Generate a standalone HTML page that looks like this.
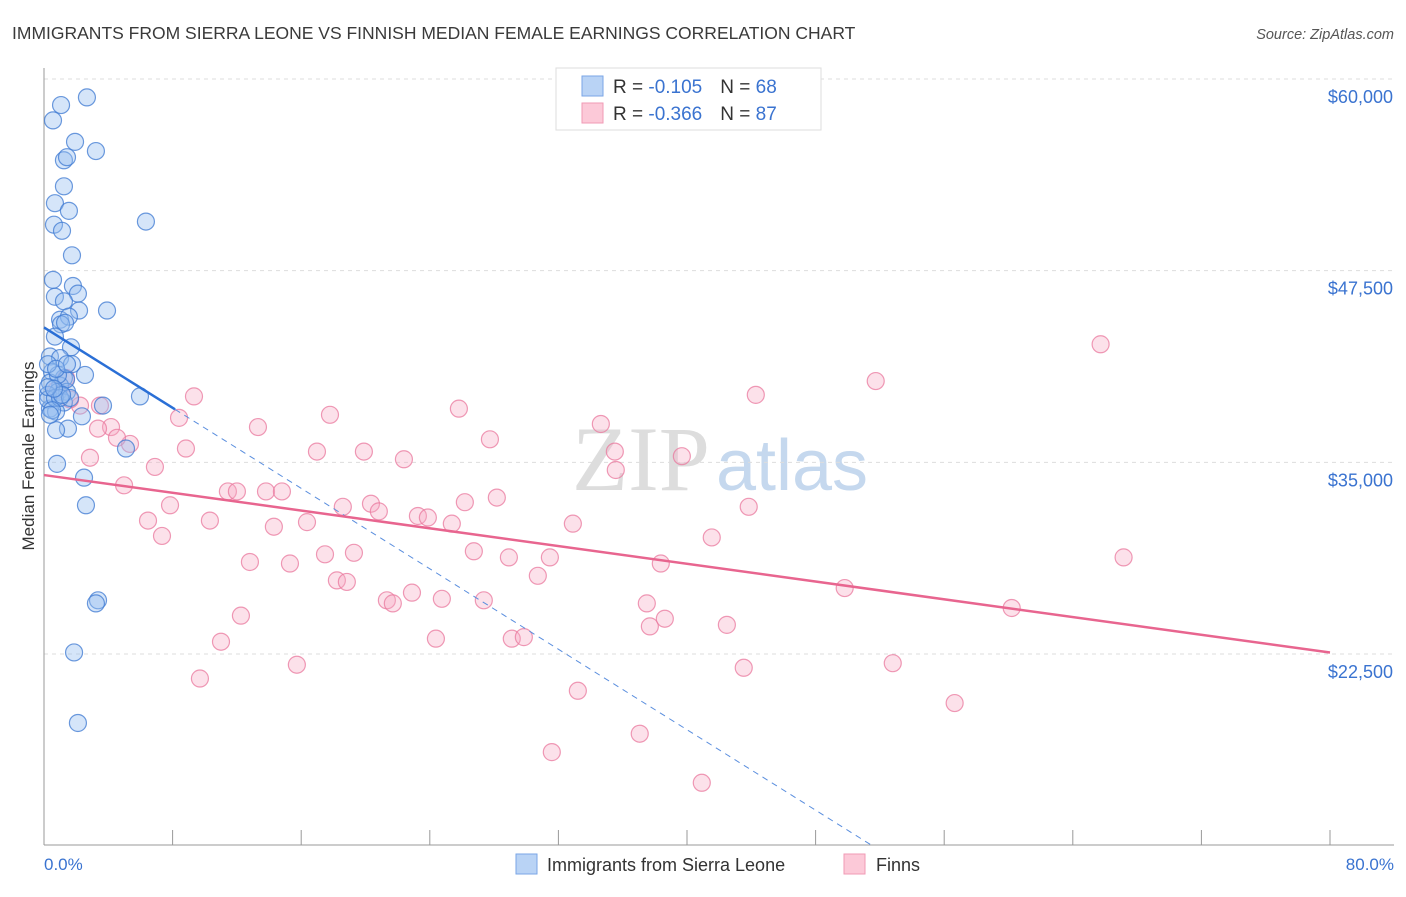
<!DOCTYPE html>
<html><head><meta charset="utf-8"><style>
body{margin:0;background:#fff;font-family:"Liberation Sans",sans-serif}
svg text{font-family:"Liberation Sans",sans-serif}
</style></head><body>
<svg id="chart" width="1406" height="892" xmlns="http://www.w3.org/2000/svg">
<text x="12" y="39" font-size="17.5" fill="#3a3a3a">IMMIGRANTS FROM SIERRA LEONE VS FINNISH MEDIAN FEMALE EARNINGS CORRELATION CHART</text>
<text x="1394" y="39" font-size="14.5" fill="#555" font-style="italic" text-anchor="end">Source: ZipAtlas.com</text>
<text x="720" y="490" font-size="92" text-anchor="middle"><tspan fill="#ddd" font-family="Liberation Serif">ZIP</tspan><tspan fill="#c5d8ee" font-size="72" dx="6">atlas</tspan></text>
<g id="grid"></g><g id="axes"></g><g id="pts"></g><g id="lines"></g>
<text transform="translate(34,456) rotate(-90)" font-size="17" fill="#333" text-anchor="middle">Median Female Earnings</text>
<text x="44" y="870" font-size="17" fill="#3a73d0">0.0%</text>
<text x="1394" y="870" font-size="17" fill="#3a73d0" text-anchor="end">80.0%</text>
<g>
<rect x="556" y="68" width="265" height="62" fill="#fff" stroke="#ddd"/>
<rect x="582" y="76" width="21" height="20" fill="#b9d3f5" stroke="#7aa6e6"/>
<rect x="582" y="103" width="21" height="20" fill="#fcc9d8" stroke="#f09ab5"/>
<text x="613" y="93" font-size="19" fill="#333">R = <tspan fill="#3a73d0">-0.105</tspan><tspan dx="18">N = </tspan><tspan fill="#3a73d0">68</tspan></text>
<text x="613" y="120" font-size="19" fill="#333">R = <tspan fill="#3a73d0">-0.366</tspan><tspan dx="18">N = </tspan><tspan fill="#3a73d0">87</tspan></text>
</g>
<g>
<rect x="516" y="854" width="21" height="20" fill="#b9d3f5" stroke="#7aa6e6"/>
<text x="547" y="871" font-size="18" fill="#333">Immigrants from Sierra Leone</text>
<rect x="844" y="854" width="21" height="20" fill="#fcc9d8" stroke="#f09ab5"/>
<text x="876" y="871" font-size="18" fill="#333">Finns</text>
</g>
</svg>
<script>
const yTicks=[60000,47500,35000,22500];
const yTickLabels=["$60,000","$47,500","$35,000","$22,500"];
const xTicks=[0,8,16,24,32,40,48,56,64,72,80];
const blueX=[2.67,1.06,0.56,1.93,3.23,1.24,1.43,1.24,0.68,1.55,6.34,0.62,1.12,1.74,0.56,1.80,0.68,2.11,1.24,3.92,2.18,1.0,1.55,1.06,1.31,0.68,1.68,0.37,1.0,1.74,2.55,0.50,1.24,1.0,0.37,0.87,1.43,3.67,1.24,0.37,0.75,2.36,1.49,0.75,5.10,0.81,2.49,2.61,3.36,3.23,1.87,2.11,5.97,0.25,0.25,0.68,1.0,0.50,1.37,0.87,0.25,1.62,1.12,0.25,0.62,0.75,1.43,0.37];
const blueY=[58.8,58.3,57.3,55.9,55.3,54.7,54.9,53.0,51.9,51.4,50.7,50.5,50.1,48.5,46.9,46.5,45.8,46.0,45.5,44.9,44.9,44.3,44.5,44.0,44.1,43.2,42.5,41.9,41.8,41.4,40.7,40.9,40.5,40.0,40.2,39.6,39.6,38.7,38.9,38.5,38.3,38.0,37.2,37.1,35.9,34.9,34.0,32.2,26.0,25.8,22.6,18.0,39.3,39.4,39.1,39.2,39.2,38.4,40.4,40.7,41.4,39.2,39.4,39.9,39.8,41.1,41.4,38.1];
const pinkX=[3.48,0.75,1.37,9.33,8.40,4.17,3.36,5.35,2.86,8.83,6.90,4.98,11.44,6.47,7.84,7.34,10.32,12.0,13.31,13.81,14.80,14.30,16.36,12.81,15.30,12.25,11.01,9.70,15.73,16.98,17.79,19.90,18.59,17.48,19.28,18.22,18.84,20.34,20.83,22.39,23.26,23.88,25.37,26.18,25.81,27.74,28.17,26.74,28.92,31.47,30.72,21.33,21.70,22.89,24.75,27.36,24.38,29.10,29.85,34.64,35.51,35.57,32.90,33.21,31.59,37.06,37.50,37.69,38.62,38.37,39.68,41.54,42.48,43.53,40.92,44.28,43.84,51.74,49.81,52.80,56.65,60.20,65.73,67.16,2.24,1.62,4.54];
const pinkY=[38.7,39.7,40.5,39.3,37.9,37.3,37.2,36.2,35.3,35.9,34.7,33.5,33.1,31.2,32.2,30.2,31.2,33.1,37.3,33.1,33.1,30.8,31.1,28.5,28.4,25.0,23.3,20.9,21.8,35.7,38.1,35.7,32.1,29.0,29.1,27.3,27.2,32.3,31.8,35.2,31.5,31.4,31.0,32.4,38.5,36.5,32.7,29.2,28.8,28.8,27.6,26.0,25.8,26.5,26.1,26.0,23.5,23.5,23.6,37.5,35.7,34.5,31.0,20.1,16.1,17.3,25.8,24.3,24.8,28.4,35.4,30.1,24.4,21.6,14.1,39.4,32.1,40.3,26.8,21.9,19.3,25.5,42.7,28.8,38.7,39.1,36.6];
const blueTrend=[43.8,-0.656];
const pinkTrend=[34.17,-0.1447];
const X=p=>44+p*16.075, Y=k=>79+(60-k)*15.333;
const NS="http://www.w3.org/2000/svg";
function mk(t,a,parent){const e=document.createElementNS(NS,t);for(const k in a)e.setAttribute(k,a[k]);document.getElementById(parent).appendChild(e);return e;}
yTicks.forEach((v,i)=>{const y=Y(v/1000);
 const g=mk('line',{x1:44,x2:1394,y1:y,y2:y,stroke:'#ddd','stroke-dasharray':'4,4'},'grid');
 
 
 const t=mk('text',{x:1393,y:y+24,'font-size':18,fill:'#3a73d0','text-anchor':'end'},'grid');t.textContent=yTickLabels[i];
 
 });
const ax=mk('line',{x1:44,x2:44,y1:68,y2:845,stroke:'#999'},'axes');


const bx=mk('line',{x1:44,x2:1394,y1:845,y2:845,stroke:'#999'},'axes');


xTicks.forEach(p=>{const t=mk('line',{x1:X(p),x2:X(p),y1:830,y2:845,stroke:'#999'},'axes');
 
 });
pinkX.forEach((p,i)=>{const c=mk('circle',{cx:X(p),cy:Y(pinkY[i]),r:8.5,fill:'rgba(247,170,195,0.35)',stroke:'rgba(233,120,158,0.75)','stroke-width':1.2},'pts');
 
 });
blueX.forEach((p,i)=>{const c=mk('circle',{cx:X(p),cy:Y(blueY[i]),r:8.5,fill:'rgba(150,190,240,0.4)',stroke:'rgba(60,120,210,0.75)','stroke-width':1.2},'pts');
 
 });
const bEnd=8.15, bZero=(Y(10)-Y(blueTrend[0]))/1;
const bl=mk('line',{x1:X(0),y1:Y(blueTrend[0]),x2:X(bEnd),y2:Y(blueTrend[0]+blueTrend[1]*bEnd),stroke:'#2a6fd6','stroke-width':2.5},'lines');


const xe=51.5;
const bd=mk('line',{x1:X(bEnd),y1:Y(blueTrend[0]+blueTrend[1]*bEnd),x2:X(xe),y2:Y(blueTrend[0]+blueTrend[1]*xe),stroke:'#5a8ede','stroke-width':1,'stroke-dasharray':'6,5'},'lines');


const pl=mk('line',{x1:X(0),y1:Y(pinkTrend[0]),x2:X(80),y2:Y(pinkTrend[0]+pinkTrend[1]*80),stroke:'#e8658f','stroke-width':2.5},'lines');


</script>
</body></html>
